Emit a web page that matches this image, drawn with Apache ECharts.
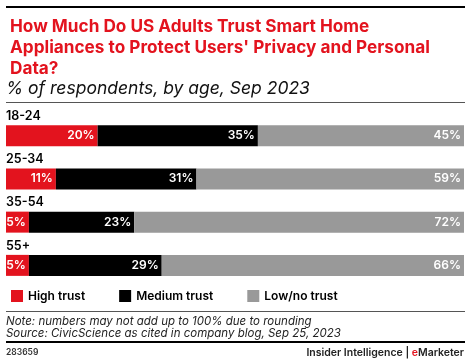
<!DOCTYPE html>
<html><head><meta charset="utf-8">
<script src="https://cdn.jsdelivr.net/npm/echarts@6/dist/echarts.min.js"></script>
<style>html,body{margin:0;padding:0;background:#fff}#c{width:470px;height:364px}</style>
</head><body><div id="c"></div>
<script>
const categories = ['18-24', '25-34', '35-54', '55+'];
const highTrust = [20, 11, 5, 5];
const mediumTrust = [35, 31, 23, 29];
const lowTrust = [45, 59, 72, 66];
const seriesNames = ['High trust', 'Medium trust', 'Low/no trust'];
const colors = ['#e3131e', '#000000', '#999999'];

const raw = [highTrust, mediumTrust, lowTrust];
const totals = categories.map((c, i) => raw.reduce((s, a) => s + a[i], 0));
const FONT = 'Inter, "Liberation Sans", sans-serif';

const chart = echarts.init(document.getElementById('c'), null, {renderer: 'canvas'});
chart.setOption({
  animation: false,
  title: {
    text: 'How Much Do US Adults Trust Smart Home\nAppliances to Protect Users\' Privacy and Personal\nData?',
    left: 5, top: 11,
    textStyle: {color: '#e3131e', fontFamily: FONT, fontWeight: 'bold', fontSize: 17.2, lineHeight: 21}
  },
  legend: {
    left: 6, top: 285, itemWidth: 12, itemHeight: 12, itemGap: 34, icon: 'rect',
    textStyle: {fontFamily: FONT, fontWeight: 600, fontSize: 12, color: '#000'},
    data: seriesNames
  },
  grid: {left: 6, right: 6, top: 114, bottom: 77, containLabel: false},
  xAxis: {type: 'value', min: 0, max: 100, show: false},
  yAxis: {
    type: 'category', data: categories, inverse: true,
    axisLine: {show: false}, axisTick: {show: false},
    axisLabel: {inside: true, verticalAlign: 'bottom', padding: [0,0,13,0], margin: 0,
      fontFamily: FONT, fontWeight: 600, fontSize: 12.5, color: '#000'}
  },
  series: raw.map((arr, k) => ({
    name: seriesNames[k], type: 'bar', stack: 'all', barWidth: 21,
    itemStyle: {color: colors[k]},
    data: arr.map((v, i) => ({value: v * 100 / totals[i], raw: v})),
    label: {show: true, position: 'insideRight', distance: 3, color: '#fff',
      fontFamily: FONT, fontWeight: 600, fontSize: 12,
      formatter: p => p.data.raw + '%'}
  })),
  graphic: [
    {type: 'rect', shape: {x: 6, y: 6, width: 459, height: 2}, style: {fill: '#000'}},
    {type: 'text', left: 6, top: 80, style: {text: '% of respondents, by age, Sep 2023', fontFamily: FONT, fontStyle: 'italic', fontSize: 17.5, fill: '#111'}},
    {type: 'rect', shape: {x: 6, y: 102, width: 459, height: 1}, style: {fill: '#555'}},
    {type: 'rect', shape: {x: 6, y: 311, width: 459, height: 1}, style: {fill: '#555'}},
    {type: 'text', left: 6, top: 315, style: {text: 'Note: numbers may not add up to 100% due to rounding\nSource: CivicScience as cited in company blog, Sep 25, 2023', fontFamily: FONT, fontStyle: 'italic', fontSize: 11.5, lineHeight: 12.5, fill: '#222'}},
    {type: 'rect', shape: {x: 6, y: 341, width: 459, height: 2}, style: {fill: '#000'}},
    {type: 'text', left: 6, top: 348, style: {text: '283659', fontFamily: FONT, fontWeight: 600, fontSize: 8.5, fill: '#333'}},
    {type: 'text', right: 6, top: 347, style: {text: '{a|Insider Intelligence | }{b|e}{a|Marketer}', rich: {a: {fontFamily: FONT, fontWeight: 600, fontSize: 10.5, fill: '#222'}, b: {fontFamily: FONT, fontWeight: 600, fontSize: 10.5, fill: '#e3131e'}}}}
  ]
});
</script></body></html>
